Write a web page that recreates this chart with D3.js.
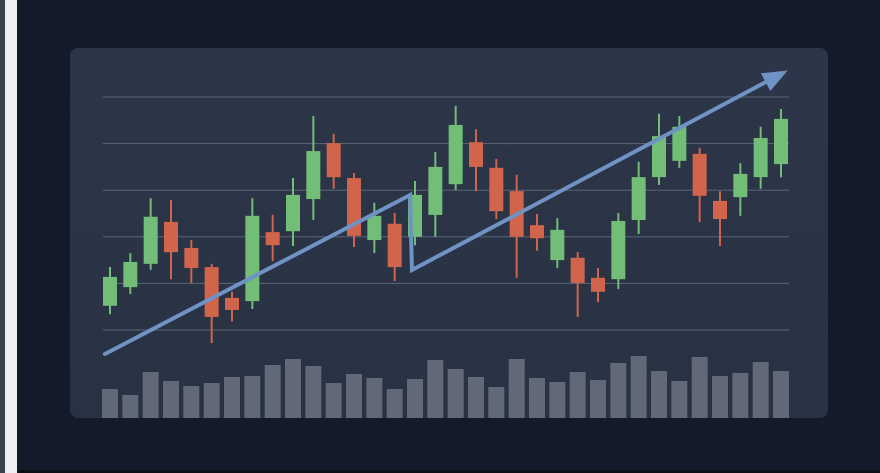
<!DOCTYPE html>
<html><head><meta charset="utf-8">
<script src="https://cdn.jsdelivr.net/npm/d3@7"></script>
<style>html,body{margin:0;padding:0;background:#131a2a;overflow:hidden}</style>
</head><body><svg id="c" width="880" height="473"></svg>
<script>
// price data (open, close, high, low)
const opens  = [15.2,19.2,24.2,33.2,27.6,23.5,16.9,16.2,31.0,31.2,38.1,50.1,42.6,29.3,32.8,30.0,34.7,41.3,50.3,44.8,39.8,32.5,25.0,25.5,21.2,20.9,33.6,42.8,46.3,47.8,37.7,38.5,42.8,45.6];
const closes = [21.4,24.6,34.3,26.7,23.3,12.8,14.3,34.5,28.2,39.0,48.4,42.8,30.2,34.5,23.5,39.0,45.0,54.0,45.0,35.5,30.0,29.7,31.5,20.1,18.2,33.4,42.8,51.6,53.6,38.8,33.8,43.5,51.2,55.3];
const highs  = [23.5,26.5,38.3,37.9,29.3,24.2,18.2,38.3,34.7,42.6,55.9,52.1,43.7,37.3,35.1,42.0,48.2,58.1,53.1,46.7,43.3,34.9,34.0,26.7,23.3,35.1,46.1,56.4,55.9,49.1,39.8,45.8,53.6,57.4];
const lows   = [13.4,17.7,22.9,20.9,20.1,7.2,11.9,14.5,24.8,28.0,33.6,40.3,27.8,26.5,20.5,28.2,30.0,40.0,39.8,33.8,21.2,27.0,23.3,12.8,16.0,18.8,30.6,41.1,44.8,33.2,28.0,34.5,40.3,42.8];
const volumes = [29,23,46,37,32,35,41,42,53,59,52,35,44,40,29,39,58,49,41,31,59,40,36,46,38,55,62,47,37,61,42,45,56,47];
const gridTicks = [10,20,30,40,50,60];
const trendX = [-0.25,14.76,14.85,33.2];
const trendY = [4.85,38.97,22.88,65.4];

const svg = d3.select('#c');
svg.append('rect').attr('x',5).attr('y',0).attr('width',12).attr('height',473).attr('fill','#eef0f3');
svg.append('rect').attr('x',0).attr('y',0).attr('width',5).attr('height',473).attr('fill','#3a4150');
svg.append('rect').attr('x',18).attr('y',470).attr('width',862).attr('height',3).attr('fill','#0b0f18');
const grad = svg.append('defs').append('linearGradient').attr('id','pg').attr('x1',0).attr('x2',0).attr('y1',0).attr('y2',1);
grad.append('stop').attr('offset',0).attr('stop-color','#2c3648');
grad.append('stop').attr('offset',1).attr('stop-color','#283243');
svg.append('rect').attr('x',70).attr('y',48).attr('width',758).attr('height',370).attr('rx',8).attr('fill','url(#pg)');

const x = d3.scaleLinear().domain([0,33]).range([110,781]);
const y = d3.scaleLinear().domain([10,60]).range([330,97]);
const v = d3.scaleLinear().domain([0,100]).range([418,318]);

svg.append('g').selectAll('line').data(gridTicks).join('line')
  .attr('x1',103).attr('x2',789).attr('y1',d=>y(d)).attr('y2',d=>y(d))
  .attr('stroke','#5b6678').attr('stroke-width',1);

svg.append('g').selectAll('rect').data(volumes).join('rect')
  .attr('x',(d,i)=>x(i)-8).attr('width',16).attr('y',d=>v(d)).attr('height',d=>418-v(d))
  .attr('fill','#6b7280').attr('opacity',0.85);

const idx = d3.range(opens.length);
const col = i => closes[i]>=opens[i] ? '#72bd77' : '#d0654c';
const cg = svg.append('g');
cg.selectAll('line').data(idx).join('line')
  .attr('x1',i=>x(i)).attr('x2',i=>x(i)).attr('y1',i=>y(highs[i])).attr('y2',i=>y(lows[i]))
  .attr('stroke',col).attr('stroke-width',2);
cg.selectAll('rect').data(idx).join('rect')
  .attr('x',i=>x(i)-7).attr('width',14)
  .attr('y',i=>y(Math.max(opens[i],closes[i])))
  .attr('height',i=>Math.abs(y(opens[i])-y(closes[i])))
  .attr('fill',col);

const pts = trendX.map((t,i)=>[x(t),y(trendY[i])]);
const last = pts[pts.length-1], prev = pts[pts.length-2];
const ang = Math.atan2(last[1]-prev[1], last[0]-prev[0]);
const back = [last[0]-14*Math.cos(ang), last[1]-14*Math.sin(ang)];
const linePts = pts.slice(0,-1).concat([back]);
svg.append('path').attr('d',d3.line()(linePts)).attr('fill','none')
  .attr('stroke','#6f93c4').attr('stroke-width',4).attr('stroke-linecap','round').attr('stroke-linejoin','miter');
const L=22, W=10;
const bx = last[0]-L*Math.cos(ang), by = last[1]-L*Math.sin(ang);
svg.append('path').attr('d',d3.line()([
  [last[0]+3*Math.cos(ang),last[1]+3*Math.sin(ang)],
  [bx+W*Math.sin(ang), by-W*Math.cos(ang)],
  [bx-W*Math.sin(ang), by+W*Math.cos(ang)]])+'Z').attr('fill','#6f93c4');
</script></body></html>
